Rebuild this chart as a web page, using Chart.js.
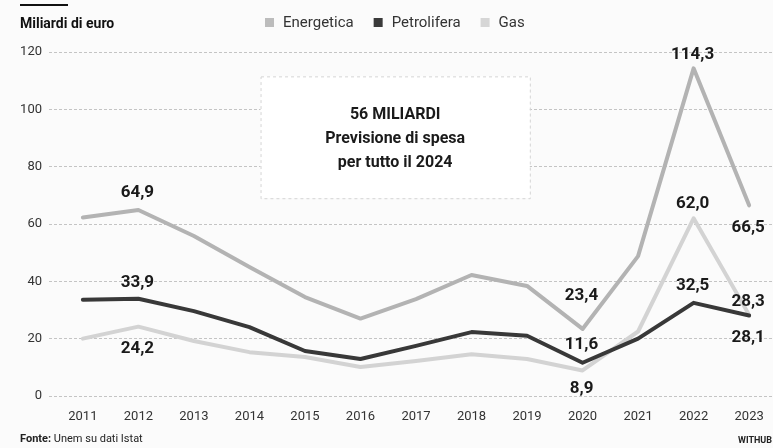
<!DOCTYPE html>
<html>
<head>
<meta charset="utf-8">
<script src="https://cdn.jsdelivr.net/npm/chart.js@4.4.1/dist/chart.umd.min.js"></script>
<style>
  html, body { margin: 0; padding: 0; background: #fbfbfb; }
  #wrap { width: 773px; height: 448px; }
</style>
</head>
<body>
<div id="wrap"><canvas id="chart1" width="773" height="448"></canvas></div>
<script>
// dati (miliardi di euro)
var years = [2011, 2012, 2013, 2014, 2015, 2016, 2017, 2018, 2019, 2020, 2021, 2022, 2023];
var energetica = [62.3, 64.9, 55.8, 45.0, 34.5, 27.0, 33.8, 42.2, 38.4, 23.4, 48.8, 114.3, 66.5];
var petrolifera = [33.6, 33.9, 29.6, 24.0, 15.7, 12.9, 17.5, 22.3, 21.0, 11.6, 20.0, 32.5, 28.1];
var gas = [20.0, 24.2, 19.2, 15.3, 13.6, 10.1, 12.2, 14.6, 12.9, 8.9, 22.5, 62.0, 28.3];
var yTicks = [0, 20, 40, 60, 80, 100, 120];
var seriesNames = ["Energetica", "Petrolifera", "Gas"];
var boxLines = ["56 MILIARDI", "Previsione di spesa", "per tutto il 2024"];

// which points get a value label, and where (px offset from the point)
var labelled = [
  { s: 0, year: 2012, dy: -17 }, { s: 1, year: 2012, dy: -16 }, { s: 2, year: 2012, dy: 22 },
  { s: 0, year: 2020, dy: -33 }, { s: 1, year: 2020, dy: -18 }, { s: 2, year: 2020, dy: 18 },
  { s: 0, year: 2022, dy: -14 }, { s: 2, year: 2022, dy: -15 }, { s: 1, year: 2022, dy: -17 },
  { s: 0, year: 2023, dy: 22 }, { s: 2, year: 2023, dy: -13 }, { s: 1, year: 2023, dy: 22 }
];
// box "56 miliardi" in data units
var boxX = [2014.2, 2019.05];
var boxY = [69, 111.5];

var colors = ["#b3b3b3", "#383838", "#d3d3d3"];
var legendColors = ["#bcbcbc", "#3a3a3a", "#d6d6d6"];
var font = "Roboto, 'Liberation Sans', sans-serif";

function toPoints(values) {
  return years.map(function (y, i) { return { x: y, y: values[i] }; });
}

function fmt(v) {
  return v.toFixed(1).replace(".", ",");
}

var deco = {
  id: "deco",
  beforeDatasetsDraw: function (chart) {
    var ctx = chart.ctx, xs = chart.scales.x, ys = chart.scales.y;
    var l = xs.getPixelForValue(boxX[0]), r = xs.getPixelForValue(boxX[1]);
    var t = ys.getPixelForValue(boxY[1]), b = ys.getPixelForValue(boxY[0]);
    ctx.save();
    ctx.fillStyle = "#ffffff";
    ctx.fillRect(l, t, r - l, b - t);
    ctx.strokeStyle = "#d4d4d4";
    ctx.lineWidth = 1;
    ctx.setLineDash([3, 3]);
    ctx.strokeRect(l + 0.5, t + 0.5, r - l, b - t);
    ctx.setLineDash([]);
    ctx.fillStyle = "#1a1a1a";
    ctx.font = "bold 16px " + font;
    ctx.textAlign = "center";
    ctx.textBaseline = "middle";
    var cx = (l + r) / 2, cy = (t + b) / 2;
    for (var i = 0; i < boxLines.length; i++) {
      ctx.fillText(boxLines[i], cx, cy - 22 + i * 24);
    }
    ctx.restore();
  },
  afterDatasetsDraw: function (chart) {
    var ctx = chart.ctx, xs = chart.scales.x, ys = chart.scales.y;
    var all = [energetica, petrolifera, gas];
    ctx.save();
    // value labels
    ctx.fillStyle = "#1a1a1a";
    ctx.font = "bold 17px " + font;
    ctx.textAlign = "center";
    ctx.textBaseline = "middle";
    labelled.forEach(function (p) {
      var i = years.indexOf(p.year);
      var v = all[p.s][i];
      ctx.fillText(fmt(v), xs.getPixelForValue(p.year) - 1, ys.getPixelForValue(v) + p.dy);
    });

    // header
    ctx.fillStyle = "#111";
    ctx.fillRect(20, 4, 48, 2);
    ctx.textAlign = "left";
    ctx.font = "bold 14px " + font;
    ctx.fillText("Miliardi di euro", 20, 24);

    // legend
    ctx.font = "15px " + font;
    var lx = 265;
    for (var k = 0; k < seriesNames.length; k++) {
      ctx.fillStyle = legendColors[k];
      ctx.fillRect(lx, 18, 9, 9);
      ctx.fillStyle = "#333";
      ctx.fillText(seriesNames[k], lx + 18, 23);
      lx += 18 + ctx.measureText(seriesNames[k]).width + 20;
    }

    // footer
    ctx.font = "bold 11px " + font;
    ctx.fillStyle = "#222";
    ctx.fillText("Fonte:", 20, 439);
    var w = ctx.measureText("Fonte: ").width;
    ctx.font = "11px " + font;
    ctx.fillText("Unem su dati Istat", 20 + w, 439);
    ctx.font = "bold 9px " + font;
    ctx.fillText("WITHUB", 738, 441);
    ctx.restore();
  }
};

var datasets = [energetica, petrolifera, gas].map(function (vals, i) {
  return {
    label: seriesNames[i],
    data: toPoints(vals),
    borderColor: colors[i],
    backgroundColor: colors[i],
    borderWidth: 4,
    pointRadius: 0,
    tension: 0,
    borderJoinStyle: "round",
    borderCapStyle: "round"
  };
});

var ctx = document.getElementById("chart1");
var chart = new Chart(ctx, {
  type: "line",
  data: { datasets: datasets },
  plugins: [deco],
  options: {
    responsive: false,
    animation: false,
    devicePixelRatio: 1,
    layout: { padding: { top: 52, bottom: 24, left: 0, right: 0 } },
    plugins: {
      legend: { display: false },
      tooltip: { enabled: false }
    },
    scales: {
      x: {
        type: "linear",
        min: 2010.39,
        max: 2023.43,
        afterBuildTicks: function (scale) {
          scale.ticks = years.map(function (y) { return { value: y }; });
        },
        afterFit: function (scale) { scale.height = 28; },
        ticks: {
          callback: function (v) { return String(v); },
          color: "#333",
          font: { family: font, size: 13 },
          padding: 5,
          maxRotation: 0,
          autoSkip: false
        },
        grid: { display: false },
        border: { display: false }
      },
      y: {
        min: 0,
        max: 120,
        afterBuildTicks: function (scale) {
          scale.ticks = yTicks.map(function (v) { return { value: v }; });
        },
        afterFit: function (scale) { scale.width = 49; },
        ticks: {
          color: "#333",
          font: { family: font, size: 13 },
          padding: 7
        },
        grid: { color: "#c4c4c4", lineWidth: 1, drawTicks: false },
        border: { display: false, dash: [3, 2] }
      }
    }
  }
});
</script>
</body>
</html>
